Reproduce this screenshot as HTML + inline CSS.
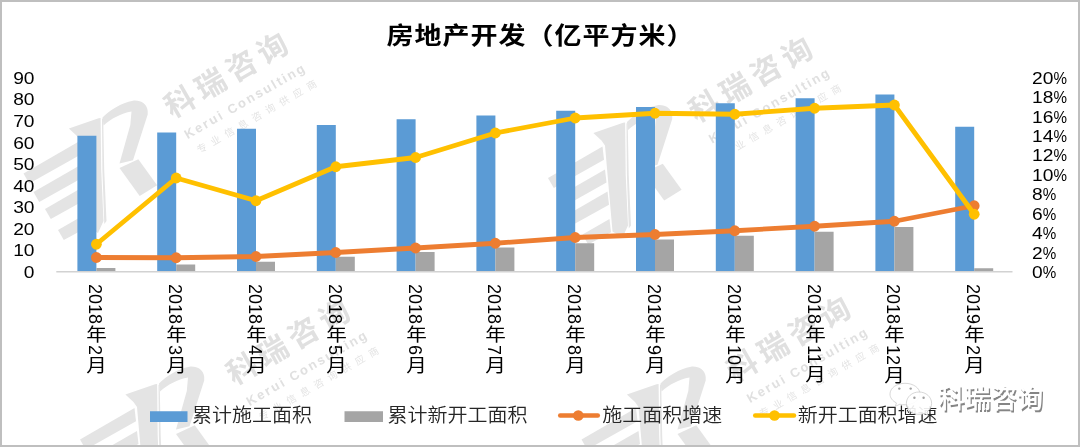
<!DOCTYPE html>
<html lang="zh-CN"><head><meta charset="utf-8"><title>房地产开发（亿平方米）</title>
<style>
html,body{margin:0;padding:0;background:#fff;}
body{width:1080px;height:447px;overflow:hidden;position:relative;font-family:"Liberation Sans","Noto Sans CJK SC",sans-serif;}
svg{position:absolute;left:0;top:0;display:block;}
text{font-family:"Liberation Sans","Noto Sans CJK SC",sans-serif;}
.ax{font-size:19.2px;fill:#000;}
.lg{font-size:20px;fill:#262626;font-weight:350;}
.ttl{font-size:27px;font-weight:bold;fill:#000;letter-spacing:1px;}
.xl{position:absolute;top:284px;width:24px;writing-mode:vertical-rl;text-orientation:mixed;font-size:20px;line-height:24px;color:#000;white-space:nowrap;font-weight:400;}
.xl b{font-weight:400;font-size:18px;}
.xl i{font-style:normal;display:inline-block;line-height:21px;height:21px;transform:scale(1.03,0.9);}
</style></head><body>

<svg width="1080" height="447" viewBox="0 0 1080 447">
<rect x="0" y="0" width="1080" height="447" fill="#fff"/>
<g fill="#e4e4e4">
<polygon points="68.9,128.4 98.6,118.3 100.6,118.0 101.2,170.0 103.5,221.0 98.0,233.0 88.0,227.0 80.5,141.0 77.0,136.0"/>
<polygon points="102.0,119.0 103.2,118.3 104.2,170.0 106.5,221.0 104.3,224.0 102.4,170.0"/>
<polygon points="23.5,173.5 78.0,142.0 79.5,155.3 29.2,183.5"/>
<polygon points="33.5,192.0 80.5,164.9 82.0,178.1 39.2,202.0"/>
<polygon points="45.0,209.0 83.0,187.1 84.5,200.3 50.8,219.0"/>
<polygon points="58.0,230.0 85.0,214.4 86.5,227.7 63.8,240.0"/>
<path d="M102.5,117.5 C110.0,110.0 121.0,103.0 133.0,100.7 C141.0,100.0 147.0,104.0 147.7,111.0 L147.7,114.5 L133.0,160.3 L119.5,163.5 L130.3,124.9 L131.5,111.5 C121.0,113.0 111.0,119.0 103.5,125.5 Z"/>
<polygon points="119.5,167.9 138.3,159.3 157.1,185.3 139.7,196.0"/>
</g>
<g transform="translate(171.6,119.7) rotate(-30)" fill="#e0e0e0"><text x="1" y="-0.6" style="font-size:30px;letter-spacing:5.6px;font-weight:bold">科瑞咨询</text><text x="4" y="25" style="font-size:13px;letter-spacing:2.1px;font-weight:bold">Kerui Consulting</text><text x="7" y="43.5" style="font-size:10px;letter-spacing:5.8px" fill="#e4e4e4">专业信息咨询供应商</text></g>
<g fill="#e4e4e4">
<polygon points="593.4,132.9 623.1,122.8 625.1,122.5 625.7,174.5 628.0,225.5 622.5,237.5 612.5,231.5 605.0,145.5 601.5,140.5"/>
<polygon points="626.5,123.5 627.7,122.8 628.7,174.5 631.0,225.5 628.8,228.5 626.9,174.5"/>
<polygon points="548.0,178.0 602.5,146.5 604.0,159.8 553.8,188.0"/>
<polygon points="558.0,196.5 605.0,169.4 606.5,182.6 563.8,206.5"/>
<polygon points="569.5,213.5 607.5,191.6 609.0,204.8 575.2,223.5"/>
<polygon points="582.5,234.5 609.5,218.9 611.0,232.2 588.2,244.5"/>
<path d="M627.0,122.0 C634.5,114.5 645.5,107.5 657.5,105.2 C665.5,104.5 671.5,108.5 672.2,115.5 L672.2,119.0 L657.5,164.8 L644.0,168.0 L654.8,129.4 L656.0,116.0 C645.5,117.5 635.5,123.5 628.0,130.0 Z"/>
<polygon points="644.0,172.4 662.8,163.8 681.6,189.8 664.2,200.5"/>
</g>
<g transform="translate(696.1,124.2) rotate(-30)" fill="#e0e0e0"><text x="1" y="-0.6" style="font-size:30px;letter-spacing:5.6px;font-weight:bold">科瑞咨询</text><text x="4" y="25" style="font-size:13px;letter-spacing:2.1px;font-weight:bold">Kerui Consulting</text><text x="7" y="43.5" style="font-size:10px;letter-spacing:5.8px" fill="#e4e4e4">专业信息咨询供应商</text></g>
<g fill="#e4e4e4">
<polygon points="125.4,394.4 155.1,384.3 157.1,384.0 157.7,436.0 160.0,487.0 154.5,499.0 144.5,493.0 137.0,407.0 133.5,402.0"/>
<polygon points="158.5,385.0 159.7,384.3 160.7,436.0 163.0,487.0 160.8,490.0 158.9,436.0"/>
<polygon points="80.0,439.5 134.5,408.0 136.0,421.3 85.8,449.5"/>
<polygon points="90.0,458.0 137.0,430.9 138.5,444.1 95.8,468.0"/>
<polygon points="101.5,475.0 139.5,453.1 141.0,466.3 107.2,485.0"/>
<polygon points="114.5,496.0 141.5,480.4 143.0,493.7 120.2,506.0"/>
<path d="M159.0,383.5 C166.5,376.0 177.5,369.0 189.5,366.7 C197.5,366.0 203.5,370.0 204.2,377.0 L204.2,380.5 L189.5,426.3 L176.0,429.5 L186.8,390.9 L188.0,377.5 C177.5,379.0 167.5,385.0 160.0,391.5 Z"/>
<polygon points="176.0,433.9 194.8,425.3 213.6,451.3 196.2,462.0"/>
</g>
<g transform="translate(233.6,386.7) rotate(-30)" fill="#e0e0e0"><text x="1" y="-0.6" style="font-size:30px;letter-spacing:5.6px;font-weight:bold">科瑞咨询</text><text x="4" y="25" style="font-size:13px;letter-spacing:2.1px;font-weight:bold">Kerui Consulting</text><text x="7" y="43.5" style="font-size:10px;letter-spacing:5.8px" fill="#e4e4e4">专业信息咨询供应商</text></g>
<g fill="#e4e4e4">
<polygon points="626.9,394.4 656.6,384.3 658.6,384.0 659.2,436.0 661.5,487.0 656.0,499.0 646.0,493.0 638.5,407.0 635.0,402.0"/>
<polygon points="660.0,385.0 661.2,384.3 662.2,436.0 664.5,487.0 662.3,490.0 660.4,436.0"/>
<polygon points="581.5,439.5 636.0,408.0 637.5,421.3 587.2,449.5"/>
<polygon points="591.5,458.0 638.5,430.9 640.0,444.1 597.2,468.0"/>
<polygon points="603.0,475.0 641.0,453.1 642.5,466.3 608.8,485.0"/>
<polygon points="616.0,496.0 643.0,480.4 644.5,493.7 621.8,506.0"/>
<path d="M660.5,383.5 C668.0,376.0 679.0,369.0 691.0,366.7 C699.0,366.0 705.0,370.0 705.7,377.0 L705.7,380.5 L691.0,426.3 L677.5,429.5 L688.3,390.9 L689.5,377.5 C679.0,379.0 669.0,385.0 661.5,391.5 Z"/>
<polygon points="677.5,433.9 696.3,425.3 715.1,451.3 697.7,462.0"/>
</g>
<g transform="translate(734.1,383.7) rotate(-30)" fill="#e0e0e0"><text x="1" y="-0.6" style="font-size:30px;letter-spacing:5.6px;font-weight:bold">科瑞咨询</text><text x="4" y="25" style="font-size:13px;letter-spacing:2.1px;font-weight:bold">Kerui Consulting</text><text x="7" y="43.5" style="font-size:10px;letter-spacing:5.8px" fill="#e4e4e4">专业信息咨询供应商</text></g>
<g fill="#5B9BD5">
<rect x="77.40" y="135.75" width="19" height="136.00"/>
<rect x="157.20" y="132.5" width="19" height="139.25"/>
<rect x="237.00" y="128.75" width="19" height="143.00"/>
<rect x="316.80" y="125" width="19" height="146.75"/>
<rect x="396.60" y="119.25" width="19" height="152.50"/>
<rect x="476.40" y="115.5" width="19" height="156.25"/>
<rect x="556.20" y="110.75" width="19" height="161.00"/>
<rect x="636.00" y="107" width="19" height="164.75"/>
<rect x="715.80" y="103.25" width="19" height="168.50"/>
<rect x="795.60" y="98.25" width="19" height="173.50"/>
<rect x="875.40" y="94.5" width="19" height="177.25"/>
<rect x="955.20" y="126.75" width="19" height="145.00"/>
</g>
<g fill="#A5A5A5">
<rect x="96.40" y="268" width="19" height="3.75"/>
<rect x="176.20" y="264.5" width="19" height="7.25"/>
<rect x="256.00" y="261.75" width="19" height="10.00"/>
<rect x="335.80" y="256.75" width="19" height="15.00"/>
<rect x="415.60" y="252" width="19" height="19.75"/>
<rect x="495.40" y="247.5" width="19" height="24.25"/>
<rect x="575.20" y="243.25" width="19" height="28.50"/>
<rect x="655.00" y="239.5" width="19" height="32.25"/>
<rect x="734.80" y="235.75" width="19" height="36.00"/>
<rect x="814.60" y="231.75" width="19" height="40.00"/>
<rect x="894.40" y="227" width="19" height="44.75"/>
<rect x="974.20" y="268.25" width="19" height="3.50"/>
</g>
<line x1="56.3" y1="271.75" x2="1012.5" y2="271.75" stroke="#D2D2D2" stroke-width="1.5"/>
<polyline points="96.40,257.50 176.20,257.75 256.00,256.50 335.80,252.50 415.60,248.00 495.40,243.25 575.20,237.50 655.00,234.50 734.80,230.75 814.60,226.25 894.40,221.25 974.20,205.75" fill="none" stroke="#ED7D31" stroke-width="4.8" stroke-linejoin="round" stroke-linecap="round"/><g fill="#ED7D31"><circle cx="96.40" cy="257.50" r="5.4"/><circle cx="176.20" cy="257.75" r="5.4"/><circle cx="256.00" cy="256.50" r="5.4"/><circle cx="335.80" cy="252.50" r="5.4"/><circle cx="415.60" cy="248.00" r="5.4"/><circle cx="495.40" cy="243.25" r="5.4"/><circle cx="575.20" cy="237.50" r="5.4"/><circle cx="655.00" cy="234.50" r="5.4"/><circle cx="734.80" cy="230.75" r="5.4"/><circle cx="814.60" cy="226.25" r="5.4"/><circle cx="894.40" cy="221.25" r="5.4"/><circle cx="974.20" cy="205.75" r="5.4"/></g>
<polyline points="96.40,244.25 176.20,178.00 256.00,200.75 335.80,166.75 415.60,157.50 495.40,133.00 575.20,118.00 655.00,113.25 734.80,114.25 814.60,108.25 894.40,105.00 974.20,214.25" fill="none" stroke="#FFC000" stroke-width="4.8" stroke-linejoin="round" stroke-linecap="round"/><g fill="#FFC000"><circle cx="96.40" cy="244.25" r="5.4"/><circle cx="176.20" cy="178.00" r="5.4"/><circle cx="256.00" cy="200.75" r="5.4"/><circle cx="335.80" cy="166.75" r="5.4"/><circle cx="415.60" cy="157.50" r="5.4"/><circle cx="495.40" cy="133.00" r="5.4"/><circle cx="575.20" cy="118.00" r="5.4"/><circle cx="655.00" cy="113.25" r="5.4"/><circle cx="734.80" cy="114.25" r="5.4"/><circle cx="814.60" cy="108.25" r="5.4"/><circle cx="894.40" cy="105.00" r="5.4"/><circle cx="974.20" cy="214.25" r="5.4"/></g>
<text class="ax" transform="translate(34.5,278.05) scale(1,0.88)" text-anchor="end">0</text>
<text class="ax" transform="translate(34.5,256.47) scale(1,0.88)" text-anchor="end">10</text>
<text class="ax" transform="translate(34.5,234.88) scale(1,0.88)" text-anchor="end">20</text>
<text class="ax" transform="translate(34.5,213.30) scale(1,0.88)" text-anchor="end">30</text>
<text class="ax" transform="translate(34.5,191.72) scale(1,0.88)" text-anchor="end">40</text>
<text class="ax" transform="translate(34.5,170.13) scale(1,0.88)" text-anchor="end">50</text>
<text class="ax" transform="translate(34.5,148.55) scale(1,0.88)" text-anchor="end">60</text>
<text class="ax" transform="translate(34.5,126.97) scale(1,0.88)" text-anchor="end">70</text>
<text class="ax" transform="translate(34.5,105.38) scale(1,0.88)" text-anchor="end">80</text>
<text class="ax" transform="translate(34.5,83.80) scale(1,0.88)" text-anchor="end">90</text>
<text class="ax" transform="translate(1032.1,277.95) scale(1,0.88)">0<tspan textLength="13.5" lengthAdjust="spacingAndGlyphs">%</tspan></text>
<text class="ax" transform="translate(1032.1,258.52) scale(1,0.88)">2<tspan textLength="13.5" lengthAdjust="spacingAndGlyphs">%</tspan></text>
<text class="ax" transform="translate(1032.1,239.10) scale(1,0.88)">4<tspan textLength="13.5" lengthAdjust="spacingAndGlyphs">%</tspan></text>
<text class="ax" transform="translate(1032.1,219.67) scale(1,0.88)">6<tspan textLength="13.5" lengthAdjust="spacingAndGlyphs">%</tspan></text>
<text class="ax" transform="translate(1032.1,200.25) scale(1,0.88)">8<tspan textLength="13.5" lengthAdjust="spacingAndGlyphs">%</tspan></text>
<text class="ax" transform="translate(1032.1,180.82) scale(1,0.88)">10<tspan textLength="13.5" lengthAdjust="spacingAndGlyphs">%</tspan></text>
<text class="ax" transform="translate(1032.1,161.40) scale(1,0.88)">12<tspan textLength="13.5" lengthAdjust="spacingAndGlyphs">%</tspan></text>
<text class="ax" transform="translate(1032.1,141.97) scale(1,0.88)">14<tspan textLength="13.5" lengthAdjust="spacingAndGlyphs">%</tspan></text>
<text class="ax" transform="translate(1032.1,122.55) scale(1,0.88)">16<tspan textLength="13.5" lengthAdjust="spacingAndGlyphs">%</tspan></text>
<text class="ax" transform="translate(1032.1,103.13) scale(1,0.88)">18<tspan textLength="13.5" lengthAdjust="spacingAndGlyphs">%</tspan></text>
<text class="ax" transform="translate(1032.1,83.70) scale(1,0.88)">20<tspan textLength="13.5" lengthAdjust="spacingAndGlyphs">%</tspan></text>
<text class="ttl" transform="translate(540.5,43.5) scale(1,0.88)" text-anchor="middle">房地产开发（亿平方米）</text>
<rect x="150" y="411.25" width="37.5" height="10.75" fill="#5B9BD5"/>
<text class="lg" transform="translate(192,422.1) scale(1,0.94)">累计施工面积</text>
<rect x="344.5" y="411.25" width="38.5" height="10.75" fill="#A5A5A5"/>
<text class="lg" transform="translate(387.5,422.1) scale(1,0.94)">累计新开工面积</text>
<line x1="560.2" y1="415.5" x2="597.8" y2="415.5" stroke="#ED7D31" stroke-width="4.5" stroke-linecap="round"/><circle cx="578.3" cy="415.5" r="5.3" fill="#ED7D31"/>
<text class="lg" transform="translate(602.3,422.1) scale(1,0.94)">施工面积增速</text>
<line x1="755.2" y1="415.5" x2="794" y2="415.5" stroke="#FFC000" stroke-width="4.5" stroke-linecap="round"/><circle cx="774.5" cy="415.5" r="5.3" fill="#FFC000"/>
<text class="lg" transform="translate(797.7,422.1) scale(1,0.94)">新开工面积增速</text>
<g fill="#fff" fill-opacity="0.9" stroke="#c6c6c6" stroke-width="0.7">
<path d="M905,383.3 C913.3,383.3 920,388 920,394 C920,400 913.3,404.8 905,404.8 C903.2,404.8 901.5,404.6 899.9,404.2 L895.4,406.3 L896.4,402.9 C892.5,401 890,397.7 890,394 C890,388 896.7,383.3 905,383.3 Z"/>
<path d="M919,392 C926,392 931.6,397 931.6,403.3 C931.6,406.8 929.8,409.9 927,412 L927.9,415.3 L924.2,413.4 C922.6,414 920.8,414.4 919,414.4 C912,414.4 906.4,409.5 906.4,403.3 C906.4,397 912,392 919,392 Z"/>
</g>
<g fill="#a0a0a0"><circle cx="899.3" cy="388.6" r="1.2"/><circle cx="910.7" cy="388.6" r="1.2"/><circle cx="914.4" cy="397.8" r="1.2"/><circle cx="923.6" cy="397.8" r="1.2"/></g>
<text x="939.4" y="409.6" style="font-size:26.3px;fill:#858585;font-weight:500">科瑞咨询</text>
<text x="938.2" y="408.4" style="font-size:26.3px;fill:#fff;font-weight:500">科瑞咨询</text>
<rect x="1" y="1" width="1078" height="445" fill="none" stroke="#BFBFBF" stroke-width="2"/>
</svg>
<div class="xl" style="left:83.40px"><b>2018</b><i>年</i><b>2</b><i>月</i></div>
<div class="xl" style="left:163.20px"><b>2018</b><i>年</i><b>3</b><i>月</i></div>
<div class="xl" style="left:243.00px"><b>2018</b><i>年</i><b>4</b><i>月</i></div>
<div class="xl" style="left:322.80px"><b>2018</b><i>年</i><b>5</b><i>月</i></div>
<div class="xl" style="left:402.60px"><b>2018</b><i>年</i><b>6</b><i>月</i></div>
<div class="xl" style="left:482.40px"><b>2018</b><i>年</i><b>7</b><i>月</i></div>
<div class="xl" style="left:562.20px"><b>2018</b><i>年</i><b>8</b><i>月</i></div>
<div class="xl" style="left:642.00px"><b>2018</b><i>年</i><b>9</b><i>月</i></div>
<div class="xl" style="left:721.80px"><b>2018</b><i>年</i><b>10</b><i>月</i></div>
<div class="xl" style="left:801.60px"><b>2018</b><i>年</i><b>11</b><i>月</i></div>
<div class="xl" style="left:881.40px"><b>2018</b><i>年</i><b>12</b><i>月</i></div>
<div class="xl" style="left:961.20px"><b>2019</b><i>年</i><b>2</b><i>月</i></div>
</body></html>
